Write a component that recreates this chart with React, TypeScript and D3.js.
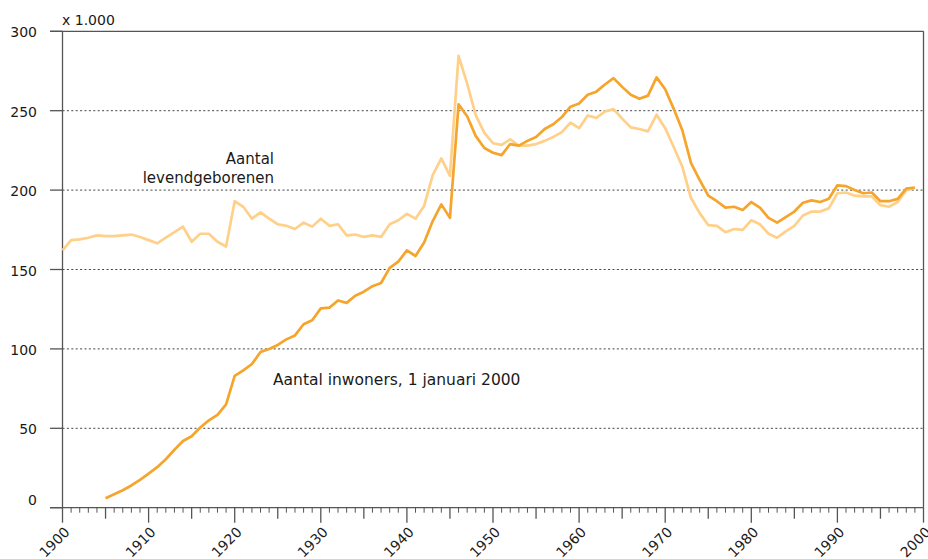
import React from 'react';
import * as d3 from 'd3';

// levendgeborenen per jaar, 1900-1999 (x 1.000)
const birthStart = 1900;
const births = [
  162, 168.5, 169, 170, 171.5, 171, 171, 171.5, 172, 170.5,
  168.5, 166.5, 170, 173.5, 177, 167.5, 172.5, 172.5, 167.5, 164.5,
  193, 189.5, 182, 186, 182, 178.5, 177.5, 175.5, 179.5, 177,
  182, 177.5, 178.5, 171.5, 172, 170.5, 171.5, 170.5, 178.5, 181,
  185, 182, 190, 209.5, 220, 209, 284.5, 267, 247, 236,
  229.5, 228.5, 232, 228, 228, 229, 231, 233.5, 236.5, 242.5,
  239, 247, 245.5, 249.5, 251, 245, 239.5, 238.5, 237, 247.5,
  239, 227, 214.5, 195, 185.5, 178, 177.5, 173.5, 175.5, 175,
  181, 178.5, 172.5, 170, 174, 177.5, 184, 186.5, 186.5, 188.5,
  198, 198.5, 196.5, 196, 196, 190.5, 189.5, 192.5, 200, 201.5,
];

// inwoners op 1 januari 2000 naar geboortejaar, 1905-1999 (x 1.000)
const inhabStart = 1905;
const inhabitants = [
  6, 8.5, 11, 14, 17.5,
  21.5, 25.5, 30.5, 36.5, 42, 45, 50.5, 55, 58.5, 65,
  83, 86.5, 90.5, 98, 100, 102.5, 106, 108.5, 115.5, 118,
  125.5, 126, 130.5, 129, 133.5, 136, 139.5, 141.5, 151, 155,
  162, 158.5, 167, 180.5, 191, 182.5, 254, 246.5, 234, 226.5,
  223.5, 222, 229, 228, 231, 233.5, 238.5, 241.5, 246, 252.5,
  254.5, 260, 262, 266.5, 270.5, 265, 260, 257.5, 259.5, 271,
  263.5, 251, 237.5, 217, 206.5, 196.5, 193, 189, 189.5, 187.5,
  192.5, 189, 182.5, 179.5, 183, 186.5, 192, 193.5, 192.5, 194.5,
  203, 202.5, 200, 198, 198.5, 193, 193, 194.5, 201, 201.5,
];

const yTicks = [0, 50, 100, 150, 200, 250, 300];
const xLabels = [1900, 1910, 1920, 1930, 1940, 1950, 1960, 1970, 1980, 1990, 2000];

const W = 928;
const H = 559;
const FONT = 'DejaVu Sans, sans-serif';
const AXIS = '#555';
const TEXT = '#1a1a1a';

export default function App() {
  const x = d3.scaleLinear().domain([1900, 2000]).range([62.5, 923.5]);
  const y = d3.scaleLinear().domain([0, 300]).range([507.7, 31.3]);

  const birthLine = d3.line<number>()
    .x((d, i) => x(birthStart + i))
    .y(d => y(d))(births);
  const inhabLine = d3.line<number>()
    .x((d, i) => x(inhabStart + i))
    .y(d => y(d))(inhabitants);

  const years = d3.range(1900, 2001);

  return (
    <svg width={W} height={H} style={{ position: 'absolute', left: 0, top: 0, background: '#fff' }}>
      {/* gridlines */}
      {yTicks.filter(t => t > 0 && t < 300).map(t => (
        <line key={'g' + t} x1={x(1900)} x2={x(2000)} y1={y(t)} y2={y(t)}
          stroke="#444" strokeWidth={1} strokeDasharray="2,2.4" />
      ))}
      {/* y ticks */}
      {yTicks.map(t => (
        <line key={'yt' + t} x1={50} x2={x(1900)} y1={y(t)} y2={y(t)} stroke={AXIS} strokeWidth={1.3} />
      ))}
      {yTicks.map(t => (
        <text key={'yl' + t} x={37} y={t === 0 ? y(t) - 3 : y(t) + 6} textAnchor="end"
          fontFamily={FONT} fontSize={14} fill={TEXT}>{t}</text>
      ))}
      <text x={62} y={24.5} fontFamily={FONT} fontSize={14} fill={TEXT}>x 1.000</text>

      {/* frame */}
      <line x1={50} x2={x(2000)} y1={y(300)} y2={y(300)} stroke={AXIS} strokeWidth={1.3} />
      <line x1={x(1900)} x2={x(1900)} y1={y(300)} y2={y(0)} stroke={AXIS} strokeWidth={1.3} />
      <line x1={x(2000)} x2={x(2000)} y1={y(300)} y2={y(0)} stroke={AXIS} strokeWidth={1.3} />
      <line x1={50} x2={x(2000)} y1={y(0)} y2={y(0)} stroke={AXIS} strokeWidth={1.3} />

      {/* x ticks */}
      {years.map(yr => {
        const len = yr % 10 === 0 ? 15 : yr % 5 === 0 ? 11 : 5;
        return (
          <line key={'xt' + yr} x1={x(yr)} x2={x(yr)} y1={y(0)} y2={y(0) + len}
            stroke={AXIS} strokeWidth={yr % 5 === 0 ? 1.3 : 1} />
        );
      })}
      {xLabels.map(yr => (
        <text key={'xl' + yr} transform={`translate(${x(yr) + 8},533) rotate(-45)`}
          textAnchor="end" fontFamily={FONT} fontSize={14} fill={TEXT}>{yr}</text>
      ))}

      {/* series */}
      <path d={birthLine ?? ''} fill="none" stroke="#FFD08A" strokeWidth={2.7} strokeLinejoin="round" />
      <path d={inhabLine ?? ''} fill="none" stroke="#F5A52C" strokeWidth={2.7} strokeLinejoin="round" />

      {/* annotations */}
      <text x={274} y={164} textAnchor="end" fontFamily={FONT} fontSize={15} fill={TEXT}>Aantal</text>
      <text x={274} y={183} textAnchor="end" fontFamily={FONT} fontSize={15} fill={TEXT}>levendgeborenen</text>
      <text x={273} y={385} fontFamily={FONT} fontSize={15.5} fill={TEXT}>Aantal inwoners, 1 januari 2000</text>
    </svg>
  );
}
